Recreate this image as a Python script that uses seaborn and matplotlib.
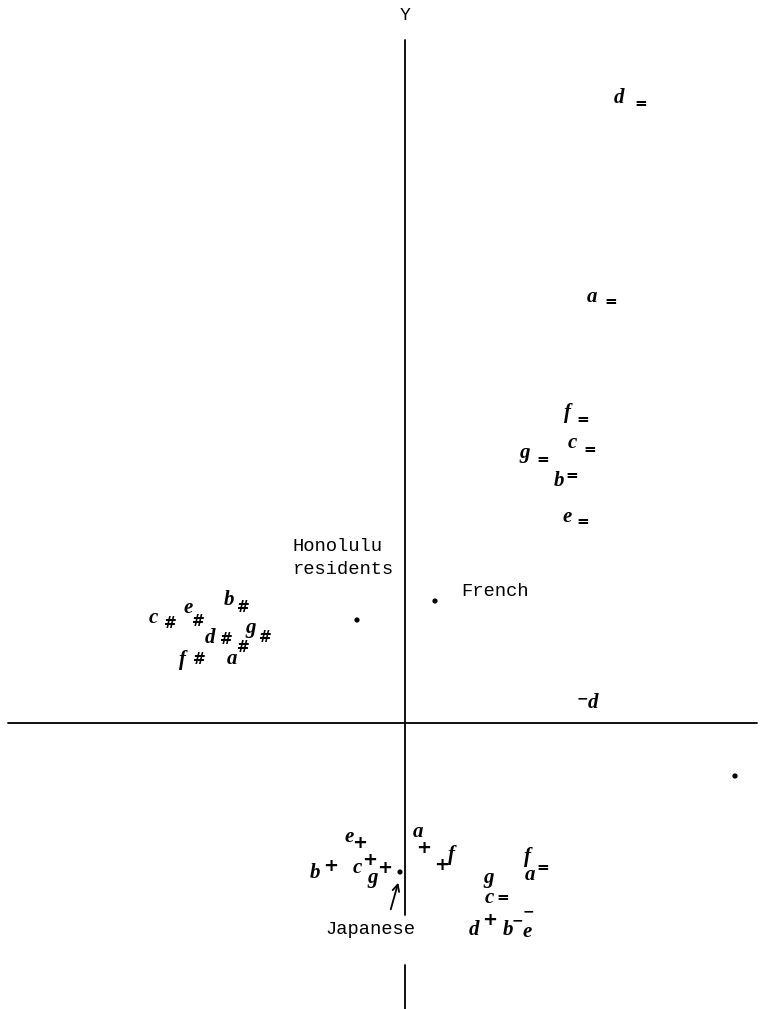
import matplotlib
matplotlib.use("Agg")
import matplotlib.pyplot as plt
import seaborn as sns
import pandas as pd

# Stimulus letters and the group symbol written beside each one
letters = ["a", "b", "c", "d", "e", "f", "g"]

# Honolulu residents (#)
hono_x = [-1.73, -1.76, -2.52, -1.95, -2.17, -2.22, -1.54]
hono_y = [0.64, 1.23, 1.05, 0.85, 1.15, 0.63, 0.95]
hono_sx = [-1.62, -1.62, -2.35, -1.79, -2.07, -2.06, -1.40]
hono_sy = [0.75, 1.16, 1.00, 0.83, 1.02, 0.64, 0.86]

# French (=)
fr_x = [1.87, 1.54, 1.67, 2.14, 1.62, 1.63, 1.20]
fr_y = [4.26, 2.42, 2.80, 6.25, 2.06, 3.10, 2.70]
fr_sx = [2.06, 1.67, 1.85, 2.36, 1.78, 1.78, 1.38]
fr_sy = [4.21, 2.48, 2.74, 6.20, 2.01, 3.04, 2.63]

# Japanese (+)
jp_x = [0.13, -0.90, -0.48, 0.69, -0.56, 0.47, -0.32]
jp_y = [-1.09, -1.50, -1.45, -2.07, -1.14, -1.32, -1.55]
jp_sx = [0.19, -0.74, -0.35, 0.85, -0.45, 0.37, -0.20]
jp_sy = [-1.25, -1.43, -1.37, -1.97, -1.20, -1.42, -1.45]

# Fourth set (= / −)
q_x = [1.25, 1.03, 0.84, 1.88, 1.22, 1.23, 0.84]
q_y = [-1.52, -2.07, -1.75, 0.20, -2.09, -1.34, -1.55]
q_sym = ["=", "−", "=", "−", "−", "", ""]
q_sx = [1.38, 1.12, 0.98, 1.77, 1.23, 1.23, 0.84]
q_sy = [-1.44, -1.97, -1.74, 0.25, -1.88, -1.34, -1.55]

# Group centroids
cent_names = ["Honolulu\nresidents", "French", "Japanese"]
cent_x = [-0.48, 0.30, -0.05]
cent_y = [1.03, 1.22, -1.49]

# A stray point on the right
extra_x = [3.30]
extra_y = [-0.53]

rows = []
for xs, ys, sxs, sys_, syms in [
    (hono_x, hono_y, hono_sx, hono_sy, ["#"] * 7),
    (fr_x, fr_y, fr_sx, fr_sy, ["="] * 7),
    (jp_x, jp_y, jp_sx, jp_sy, ["+"] * 7),
    (q_x, q_y, q_sx, q_sy, q_sym),
]:
    for i, L in enumerate(letters):
        rows.append(dict(letter=L, x=xs[i], y=ys[i], sym=syms[i], sx=sxs[i], sy=sys_[i]))
pts = pd.DataFrame(rows)

sns.set_theme(style="white")
plt.rcParams["font.family"] = ["Liberation Mono", "DejaVu Sans"]

fig = plt.figure(figsize=(7.68, 10.09), dpi=100)
ax = fig.add_axes([0, 0, 1, 1])
ax.set_xlim(-4.05, 3.63)
ax.set_ylim(-2.86, 7.23)
ax.axis("off")

# Coordinate axes
ax.plot([-3.97, 3.52], [0, 0], color="black", lw=1.3)
ax.plot([0, 0], [6.83, -1.92], color="black", lw=1.3)
ax.plot([0, 0], [-2.42, -2.90], color="black", lw=1.3)
ax.text(0, 7.08, "Y", ha="center", va="center", fontsize=13, color="black")
ax.text(3.68, 0.0, "X", ha="center", va="center", fontsize=13, color="black")

# Group centroids and loose point
cent = pd.DataFrame(dict(x=cent_x + extra_x, y=cent_y + extra_y))
sns.scatterplot(data=cent, x="x", y="y", ax=ax, color="black", s=14,
                edgecolor="none", legend=False)

# Stimulus letters with their group symbols
hand = dict(family="Liberation Serif", style="italic", color="black")
for r in pts.itertuples():
    ax.text(r.x, r.y, r.letter, ha="center", va="center", fontsize=15,
            fontweight="bold", **hand)
    if r.sym:
        fs = {"#": 11, "=": 11, "+": 13, "−": 10}[r.sym]
        ax.text(r.sx, r.sy, r.sym, ha="center", va="center", fontsize=fs,
                family="DejaVu Sans", fontweight="bold", color="black")

# Centroid labels
ax.text(-1.12, 1.65, "Honolulu\nresidents", ha="left", va="center",
        fontsize=13.5, linespacing=1.45, color="black")
ax.text(0.56, 1.31, "French", ha="left", va="center", fontsize=13.5, color="black")
ax.text(-0.35, -2.07, "Japanese", ha="center", va="center", fontsize=13.5, color="black")
ax.annotate("", xy=(-0.06, -1.57), xytext=(-0.15, -1.89),
            arrowprops=dict(arrowstyle="->", color="black", lw=1.3))

fig.savefig("out.png", dpi=100)
